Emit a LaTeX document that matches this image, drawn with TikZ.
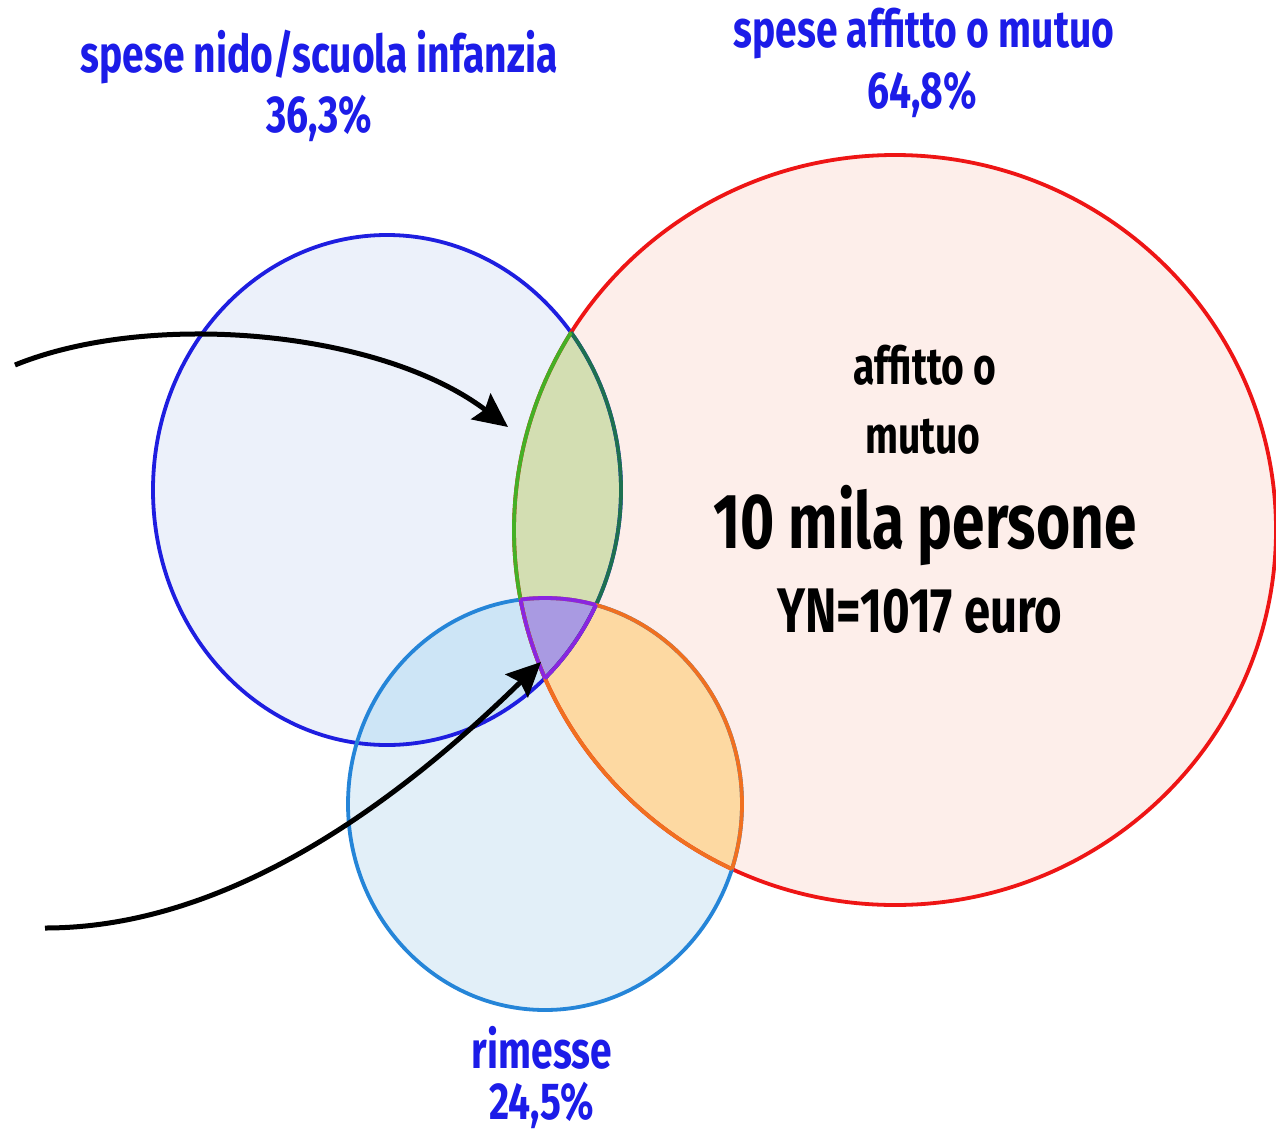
\documentclass[tikz,border=0pt]{standalone}
\usepackage{fontspec}
\setmainfont{Fira Sans}[FakeStretch=0.75]
\usetikzlibrary{arrows.meta}
\definecolor{bstroke}{HTML}{1E1EE0}
\definecolor{bfill}{HTML}{ECF1FA}
\definecolor{rstroke}{HTML}{EE1515}
\definecolor{rfill}{HTML}{FDEEEA}
\definecolor{mstroke}{HTML}{2585D8}
\definecolor{mfill}{HTML}{E2EFF8}
\definecolor{bmfill}{HTML}{CDE5F6}
\definecolor{gfill}{HTML}{D3DEB2}
\definecolor{gleft}{HTML}{45B025}
\definecolor{gright}{HTML}{1E7050}
\definecolor{pfill}{HTML}{A99AE2}
\definecolor{pstroke}{HTML}{8A25E0}
\definecolor{ofill}{HTML}{FDD9A2}
\definecolor{ostroke}{HTML}{F07020}
\definecolor{labelblue}{HTML}{1C1CE8}
\begin{document}
\begin{tikzpicture}[x=1pt,y=-1pt,
  lbl/.style={text=labelblue,font=\fontsize{52}{60}\selectfont\bfseries,anchor=base,inner sep=0pt},
  ctr/.style={text=black,font=\fontsize{52}{60}\selectfont\bfseries,anchor=base,inner sep=0pt},
  arr/.style={line width=5pt,-{Stealth[length=34pt,width=32pt,inset=5pt]}},
  ring/.style={line width=3.8pt}]
\useasboundingbox[fill=white] (0,0) rectangle (1276,1132);
\def\blueE{(387,490) ellipse [x radius=234pt, y radius=255pt]}
\def\redE{(895,530) ellipse [x radius=381pt, y radius=375pt]}
\def\remE{(545,804) ellipse [x radius=197pt, y radius=206pt]}
% fills
\fill[bfill] \blueE;
\fill[rfill] \redE;
\fill[mfill] \remE;
\begin{scope}\clip \blueE; \fill[bmfill] \remE; \end{scope}
\begin{scope}\clip \blueE; \fill[gfill] \redE; \end{scope}
\begin{scope}\clip \redE; \fill[ofill] \remE; \end{scope}
\begin{scope}\clip \blueE; \clip \redE; \fill[pfill] \remE; \end{scope}
% strokes
\draw[ring,bstroke] \blueE;
\draw[ring,rstroke] \redE;
\draw[ring,mstroke] \remE;
\begin{scope}\clip \redE; \draw[ring,gright] \blueE; \end{scope}
\begin{scope}\clip \blueE; \draw[ring,gleft] \redE; \end{scope}
\begin{scope}\clip \remE; \draw[ring,ostroke] \redE; \end{scope}
\begin{scope}\clip \redE; \draw[ring,ostroke] \remE; \end{scope}
\begin{scope}\clip \redE; \clip \remE; \draw[ring,pstroke] \blueE; \end{scope}
\begin{scope}\clip \blueE; \clip \remE; \draw[ring,pstroke] \redE; \end{scope}
\begin{scope}\clip \blueE; \clip \redE; \draw[ring,pstroke] \remE; \end{scope}
% labels
\node[lbl] (n1) at (319,72) {spese nido/scuola infanzia};
\node[lbl] (n2) at (319,132) {36,3\%};
\node[lbl] (r1) at (924,48) {spese affitto o mutuo};
\node[lbl] (r2) at (922,108) {64,8\%};
\node[lbl] (m1) at (542,1068) {rimesse};
\node[lbl] (m2) at (542,1119) {24,5\%};
\node[ctr] (c1) at (925,384) {affitto o};
\node[ctr] (c2) at (923,453) {mutuo};
\node[ctr,font=\fontsize{78}{90}\selectfont\bfseries] (c3) at (925,548) {10 mila persone};
\node[ctr,font=\fontsize{63}{70}\selectfont\bfseries] (c4) at (920,632) {YN=1017 euro};
% arrows
\coordinate (a1s) at (15,365);
\coordinate (a1e) at (508,427);
\coordinate (a2s) at (45,928);
\coordinate (a2e) at (541,662);
\draw[arr] (a1s) .. controls (150,310) and (380,330) .. (a1e);
\draw[arr] (a2s) .. controls (230,928) and (400,800) .. (a2e);
\end{tikzpicture}
\end{document}
